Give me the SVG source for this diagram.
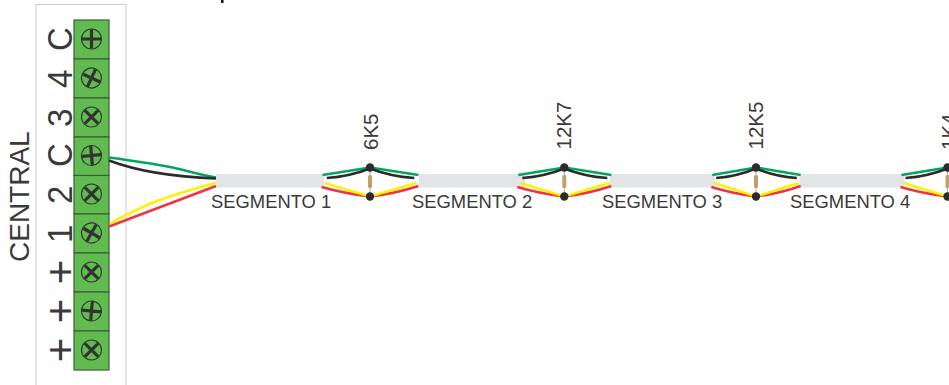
<svg xmlns="http://www.w3.org/2000/svg" xmlns:xlink="http://www.w3.org/1999/xlink" width="949" height="385" viewBox="0 0 949 385">
<style>
text{font-family:"Liberation Sans",Arial,sans-serif;fill:#3a3a3a}
.t{font-size:33px}
.p{font-size:42px}
.c{font-size:28px}
.s{font-size:18.4px}
.k{font-size:20.5px}
.block{fill:#62bb50;stroke:#3c5f38;stroke-width:1.2}
.head{fill:none;stroke:#2f3a30;stroke-width:1.2}
.slot{stroke:#333;stroke-width:3.2;fill:none}
.w{fill:none;stroke-width:2.5}
.g{stroke:#00a65a}.b{stroke:#2b2b2b}.y{stroke:#fff200}.r{stroke:#ef3340}
.cable{fill:#e3e4e5}
.dot{fill:#2b2b2b}
.res{fill:#c2a06a}
.lead{stroke:#aaa;stroke-width:1;fill:none}
</style>
<defs>
<g id="screw">
<circle class="head" r="10"/>
<path class="slot" d="M-9.500 0H9.500M0 -9.500V9.500"/>
</g>
<g id="wires">
<path class="w g" d="M-46 7.500L0 0L47 7.500"/>
<path class="w b" d="M-42 10.500Q-20 9 0 1Q20 9 43 10.500"/>
<path class="w r" d="M-47 19.500Q-25 26 0 29Q25 26 47 18.500"/>
<path class="w y" d="M-44 15.500L0 29L45 15.500"/>
</g>
<g id="parts">
<path class="lead" d="M0 3V26"/>
<rect class="res" x="-2" y="7.500" width="4" height="13" rx="1.500"/>
<circle class="dot" cx="0" cy="0" r="4.200"/>
<circle class="dot" cx="0" cy="29" r="4.200"/>
</g>
</defs>
<rect id="paper" width="949" height="385" fill="#fff"/>
<rect id="title-fragment" x="221" y="0" width="2.600" height="3" fill="#231f20"/>
<rect id="central-box" x="36" y="4.500" width="90" height="390" fill="#fff" stroke="#ccc" stroke-width="1"/>
<g id="central-label"><text class="c" transform="translate(29 262) rotate(-90)">CENTRAL</text></g>
<g id="terminal-c-top"><rect class="block" x="74" y="20" width="35" height="39"/><use xlink:href="#screw" transform="translate(91.500 39)"/><text class="t" transform="translate(72 51) rotate(-90) scale(1 1.080)">C</text></g>
<g id="terminal-4"><rect class="block" x="74" y="59" width="35" height="39"/><use xlink:href="#screw" transform="translate(91.500 78) rotate(25)"/><text class="t" transform="translate(72 88) rotate(-90) scale(1 1.080)">4</text></g>
<g id="terminal-3"><rect class="block" x="74" y="98" width="35" height="39"/><use xlink:href="#screw" transform="translate(91.500 117) rotate(45)"/><text class="t" transform="translate(72 127) rotate(-90) scale(1 1.080)">3</text></g>
<g id="terminal-c"><rect class="block" x="74" y="137" width="35" height="38.500"/><use xlink:href="#screw" transform="translate(91.500 155.500) rotate(-5)"/><text class="t" transform="translate(72 167) rotate(-90) scale(1 1.080)">C</text></g>
<g id="terminal-2"><rect class="block" x="74" y="175.500" width="35" height="38.500"/><use xlink:href="#screw" transform="translate(91.500 194) rotate(45)"/><text class="t" transform="translate(72 204) rotate(-90) scale(1 1.080)">2</text></g>
<g id="terminal-1"><rect class="block" x="74" y="214" width="35" height="39"/><use xlink:href="#screw" transform="translate(91.500 233) rotate(30)"/><text class="t" transform="translate(72 243) rotate(-90) scale(1 1.080)">1</text></g>
<g id="terminal-plus-1"><rect class="block" x="74" y="253" width="35" height="39"/><use xlink:href="#screw" transform="translate(91.500 272) rotate(45)"/><text class="p" transform="translate(75 284.300) rotate(-90)">+</text></g>
<g id="terminal-plus-2"><rect class="block" x="74" y="292" width="35" height="39"/><use xlink:href="#screw" transform="translate(91.500 311) rotate(5)"/><text class="p" transform="translate(75 323.300) rotate(-90)">+</text></g>
<g id="terminal-plus-3"><rect class="block" x="74" y="331" width="35" height="39"/><use xlink:href="#screw" transform="translate(91.500 350) rotate(45)"/><text class="p" transform="translate(75 362.300) rotate(-90)">+</text></g>
<g id="segmento-1"><rect class="cable" x="216" y="174" width="108" height="13.500" rx="1"/><text class="s" x="211" y="208">SEGMENTO 1</text></g>
<g id="segmento-2"><rect class="cable" x="419" y="174" width="106" height="13.500" rx="1"/><text class="s" x="412" y="208">SEGMENTO 2</text></g>
<g id="segmento-3"><rect class="cable" x="610" y="174" width="105" height="13.500" rx="1"/><text class="s" x="602" y="208">SEGMENTO 3</text></g>
<g id="segmento-4"><rect class="cable" x="800" y="174" width="104" height="13.500" rx="1"/><text class="s" x="790" y="208">SEGMENTO 4</text></g>
<g id="connectors">
<path class="w g" d="M109 157.500C135 161 155 164 170 167S200 175 216 177.500"/>
<path class="w b" d="M109 160.500Q150 176 216 178.500"/>
<path class="w r" d="M109 226.500L216 186"/>
<path class="w y" d="M110 223.500C135 210 150 203 165 198S200 187 216 183"/>
<use xlink:href="#wires" transform="translate(370 167.500) scale(1.030 1)"/>
<use xlink:href="#wires" transform="translate(564.300 167.500)"/>
<use xlink:href="#wires" transform="translate(756 167.500) scale(.950 1)"/>
<use xlink:href="#wires" transform="translate(947.500 167.500)"/>
</g>
<g id="junction-6k5"><use xlink:href="#parts" transform="translate(370 167.500)"/><text class="k" transform="translate(377.500 150) rotate(-90)">6K5</text></g>
<g id="junction-12k7"><use xlink:href="#parts" transform="translate(564.300 167.500)"/><text class="k" transform="translate(571 149.500) rotate(-90)">12K7</text></g>
<g id="junction-12k5"><use xlink:href="#parts" transform="translate(756 167.500)"/><text class="k" transform="translate(762.500 149.500) rotate(-90)">12K5</text></g>
<g id="junction-1k4"><use xlink:href="#parts" transform="translate(947.500 167.500)"/><text class="k" transform="translate(955.500 150) rotate(-90)">1K4</text></g>
</svg>
